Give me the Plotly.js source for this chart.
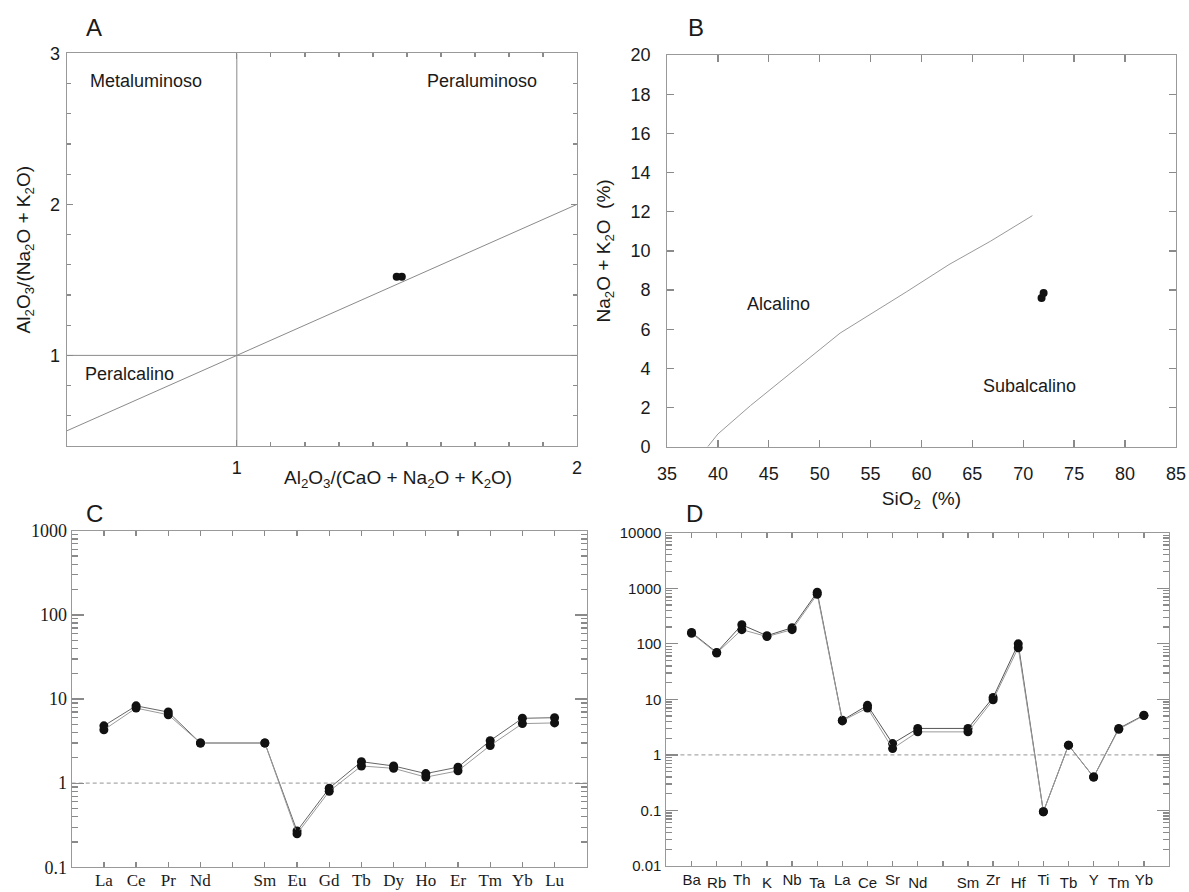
<!DOCTYPE html>
<html>
<head>
<meta charset="utf-8">
<script src="https://cdn.plot.ly/plotly-3.0.1.min.js"></script>
<style>
  html, body { margin: 0; padding: 0; background: #fff; }
  #chart { width: 1189px; height: 892px; }
</style>
</head>
<body>
<div id="chart"></div>
<script>
// ---------- Panel A (Shand index) ----------
const aDiagX = [0.5, 2.0];
const aDiagY = [0.5, 2.0];
const aHorizX = [0.5, 2.0];
const aHorizY = [1, 1];
const aVertX = [1, 1];
const aVertY = [0.4, 3];
const aSampleX = [1.470, 1.485];
const aSampleY = [1.52, 1.52];
const aFieldLabels = ['Metaluminoso', 'Peraluminoso', 'Peralcalino'];

// ---------- Panel B (TAS alkaline / subalkaline) ----------
const bBoundaryX = [39.0, 40.0, 43.2, 52.0, 58.5, 62.7, 66.8, 70.9];
const bBoundaryY = [0.0, 0.65, 2.1, 5.8, 7.9, 9.3, 10.5, 11.8];
const bSampleX = [71.8, 72.0];
const bSampleY = [7.6, 7.85];
const bFieldLabels = ['Alcalino', 'Subalcalino'];

// ---------- Panel C (REE normalised) ----------
const reeLabels = ['La','Ce','Pr','Nd','','Sm','Eu','Gd','Tb','Dy','Ho','Er','Tm','Yb','Lu'];
const reeSample1 = [4.8, 8.3, 7.0, 3.0, null, 3.0, 0.27, 0.87, 1.8, 1.6, 1.3, 1.55, 3.2, 5.9, 6.0];
const reeSample2 = [4.3, 7.8, 6.5, 3.0, null, 3.0, 0.25, 0.80, 1.6, 1.5, 1.18, 1.4, 2.8, 5.1, 5.2];
const reeTickVals = [0.1, 1, 10, 100, 1000];
const reeTickText = ['0.1', '1', '10', '100', '1000'];

// ---------- Panel D (spider diagram) ----------
const spiderLabels = ['Ba','Rb','Th','K','Nb','Ta','La','Ce','Sr','Nd','','Sm','Zr','Hf','Ti','Tb','Y','Tm','Yb'];
const spiderSample1 = [160, 70, 220, 140, 195, 850, 4.2, 7.8, 1.6, 3.0, null, 3.0, 10.8, 100, 0.095, 1.5, 0.4, 3.0, 5.2];
const spiderSample2 = [155, 68, 180, 135, 180, 780, 4.1, 7.0, 1.3, 2.6, null, 2.6, 9.8, 85, 0.095, 1.5, 0.4, 2.9, 5.1];
const spiderTickVals = [0.01, 0.1, 1, 10, 100, 1000, 10000];
const spiderTickText = ['0.01', '0.1', '1', '10', '100', '1000', '10000'];

// ---------- helpers ----------
const SANS = 'Liberation Sans, Arial, Helvetica, sans-serif';
const SERIF = 'Liberation Serif, Times New Roman, serif';
const AXC = '#999999';
const TKC = '#8a8a8a';
const TXT = '#1a1a1a';

function logMinors(lo, hi) {
  const v = [];
  for (let d = lo; d < hi; d++) for (let k = 2; k <= 9; k++) v.push(k * Math.pow(10, d));
  return v;
}
function seq(a, b, step) {
  const v = [];
  for (let t = a; t <= b + 1e-9; t += step) v.push(+t.toFixed(4));
  return v;
}
const reePos = reeLabels.map((_, i) => i + 1);
const reeLabPos = reePos.filter((_, i) => reeLabels[i] !== '');
const reeLabTxt = reeLabels.filter(s => s !== '');

const spiderPos = spiderLabels.map((_, i) => i + 1);
const upIdx = spiderLabels.map((s, i) => i).filter(i => i % 2 === 0 && spiderLabels[i] !== '');
const loIdx = spiderLabels.map((s, i) => i).filter(i => i % 2 === 1 && spiderLabels[i] !== '');
const spiderUpPos = upIdx.map(i => spiderPos[i]);
const spiderUpTxt = upIdx.map(i => spiderLabels[i]);
const spiderLoPos = loIdx.map(i => spiderPos[i]);
const spiderLoTxt = loIdx.map(i => spiderLabels[i]);

const baseAxis = {
  showline: true, mirror: 'ticks', linecolor: AXC, linewidth: 1,
  ticks: 'inside', tickcolor: TKC, tickwidth: 1.3,
  showgrid: false, zeroline: false, fixedrange: true
};
const minorStyle = { ticks: 'inside', tickcolor: TKC, tickwidth: 1.3, showgrid: false };

const lineGray = '#8a8a8a';
const marker = { color: '#111', size: 9 };

const traces = [
  // Panel A
  { x: aDiagX, y: aDiagY, xaxis: 'x', yaxis: 'y', mode: 'lines', line: { color: lineGray, width: 1 }, hoverinfo: 'skip' },
  { x: aHorizX, y: aHorizY, xaxis: 'x', yaxis: 'y', mode: 'lines', line: { color: lineGray, width: 1 }, hoverinfo: 'skip' },
  { x: aVertX, y: aVertY, xaxis: 'x', yaxis: 'y', mode: 'lines', line: { color: lineGray, width: 1 }, hoverinfo: 'skip' },
  { x: aSampleX, y: aSampleY, xaxis: 'x', yaxis: 'y', mode: 'markers', marker: { color: '#111', size: 8 } },
  // Panel B
  { x: bBoundaryX, y: bBoundaryY, xaxis: 'x2', yaxis: 'y2', mode: 'lines', line: { color: '#999', width: 1 }, hoverinfo: 'skip' },
  { x: bSampleX, y: bSampleY, xaxis: 'x2', yaxis: 'y2', mode: 'markers', marker: { color: '#111', size: 8 } },
  // Panel C
  { x: reePos, y: reeSample1, xaxis: 'x3', yaxis: 'y3', mode: 'lines+markers', connectgaps: true,
    line: { color: '#666', width: 1 }, marker: marker },
  { x: reePos, y: reeSample2, xaxis: 'x3', yaxis: 'y3', mode: 'lines+markers', connectgaps: true,
    line: { color: '#9a9a9a', width: 1 }, marker: marker },
  // Panel D
  { x: spiderPos, y: spiderSample1, xaxis: 'x4', yaxis: 'y4', mode: 'lines+markers', connectgaps: true,
    line: { color: '#555', width: 1 }, marker: marker },
  { x: spiderPos, y: spiderSample2, xaxis: 'x4', yaxis: 'y4', mode: 'lines+markers', connectgaps: true,
    line: { color: '#9a9a9a', width: 1 }, marker: marker },
  // invisible carrier so the second (staggered-label) x axis of panel D is drawn
  { x: spiderPos, y: spiderSample1, xaxis: 'x5', yaxis: 'y4', mode: 'markers', marker: { opacity: 0, size: 1 }, hoverinfo: 'skip' }
];

const layout = {
  width: 1189, height: 892,
  margin: { l: 0, r: 0, t: 0, b: 0 },
  paper_bgcolor: '#fff', plot_bgcolor: '#fff',
  showlegend: false,
  font: { family: SANS, color: TXT, size: 18 },
  // ---- A ----
  xaxis: Object.assign({}, baseAxis, {
    domain: [0.0561, 0.4853], anchor: 'y', range: [0.5, 2],
    tickmode: 'array', tickvals: [1, 2], ticktext: ['1', '2'], ticklen: 6,
    tickfont: { family: SANS, size: 18, color: TXT }, ticklabelstandoff: 5,
    minor: Object.assign({ tickmode: 'array', tickvals: seq(1.1, 1.9, 0.1), ticklen: 4 }, minorStyle)
  }),
  yaxis: Object.assign({}, baseAxis, {
    domain: [0.5, 0.9402], anchor: 'x', range: [0.4, 3],
    tickmode: 'array', tickvals: [1, 2, 3], ticktext: ['1', '2', '3'], ticklen: 6,
    tickfont: { family: SANS, size: 18, color: TXT }, ticklabelstandoff: 2,
    minor: Object.assign({ tickmode: 'array', tickvals: [0.6, 0.8, 1.2, 1.4, 1.6, 1.8, 2.2, 2.4, 2.6, 2.8], ticklen: 4 }, minorStyle),
    title: { text: 'Al<sub>2</sub>O<sub>3</sub>/(Na<sub>2</sub>O + K<sub>2</sub>O)', font: { family: SANS, size: 19, color: TXT }, standoff: 14 }
  }),
  // ---- B ----
  xaxis2: Object.assign({}, baseAxis, {
    domain: [0.561, 0.989], anchor: 'y2', range: [35, 85],
    tickmode: 'linear', tick0: 35, dtick: 5, ticklen: 7,
    tickfont: { family: SANS, size: 18, color: TXT }, ticklabelstandoff: 11,
    title: { text: 'SiO<sub>2</sub>  (%)', font: { family: SANS, size: 19, color: TXT }, standoff: 8 }
  }),
  yaxis2: Object.assign({}, baseAxis, {
    domain: [0.4992, 0.9383], anchor: 'x2', range: [0, 20],
    tickmode: 'linear', tick0: 0, dtick: 2, ticklen: 7,
    tickfont: { family: SANS, size: 18, color: TXT }, ticklabelstandoff: 12,
    title: { text: 'Na<sub>2</sub>O + K<sub>2</sub>O  (%)', font: { family: SANS, size: 19, color: TXT }, standoff: 14 }
  }),
  // ---- C ----
  xaxis3: Object.assign({}, baseAxis, {
    domain: [0.0603, 0.4935], anchor: 'y3', range: [0, 16],
    tickmode: 'array', tickvals: reeLabPos, ticktext: reeLabTxt, ticklen: 5,
    tickfont: { family: SERIF, size: 17, color: TXT }, ticklabelstandoff: -3,
    minor: Object.assign({ tickmode: 'array', tickvals: reePos, ticklen: 5 }, minorStyle)
  }),
  yaxis3: Object.assign({}, baseAxis, {
    domain: [0.0277, 0.405], anchor: 'x3', type: 'log', range: [-1, 3],
    tickmode: 'array', tickvals: reeTickVals, ticktext: reeTickText, ticklen: 12,
    tickfont: { family: SERIF, size: 18, color: TXT }, ticklabelstandoff: 0,
    minor: Object.assign({ tickmode: 'array', tickvals: logMinors(-1, 3), ticklen: 6 }, minorStyle)
  }),
  // ---- D ----
  xaxis4: Object.assign({}, baseAxis, {
    domain: [0.5605, 0.9832], anchor: 'y4', range: [0, 20],
    tickmode: 'array', tickvals: spiderUpPos, ticktext: spiderUpTxt, ticklen: 5,
    tickfont: { family: SANS, size: 15, color: TXT }, ticklabelstandoff: 0,
    minor: Object.assign({ tickmode: 'array', tickvals: spiderPos, ticklen: 5 }, minorStyle)
  }),
  xaxis5: {
    domain: [0.5605, 0.9832], anchor: 'y4', overlaying: 'x4', side: 'bottom', range: [0, 20],
    showline: false, ticks: '', showgrid: false, zeroline: false, fixedrange: true,
    tickmode: 'array', tickvals: spiderLoPos, ticktext: spiderLoTxt,
    tickfont: { family: SANS, size: 15, color: TXT }, ticklabelstandoff: 6
  },
  yaxis4: Object.assign({}, baseAxis, {
    domain: [0.0291, 0.4028], anchor: 'x4', type: 'log', range: [-2, 4],
    tickmode: 'array', tickvals: spiderTickVals, ticktext: spiderTickText, ticklen: 12,
    tickfont: { family: SANS, size: 15, color: TXT }, ticklabelstandoff: 1,
    minor: Object.assign({ tickmode: 'array', tickvals: logMinors(-2, 4), ticklen: 6 }, minorStyle)
  }),
  shapes: [
    { type: 'line', xref: 'x3 domain', x0: 0, x1: 1, yref: 'y3', y0: 1, y1: 1, line: { color: '#aaa', width: 1.2, dash: '4px,3px' }, layer: 'below' },
    { type: 'line', xref: 'x4 domain', x0: 0, x1: 1, yref: 'y4', y0: 1, y1: 1, line: { color: '#aaa', width: 1.2, dash: '4px,3px' }, layer: 'below' }
  ],
  annotations: [
    // panel letters
    { text: 'A', xref: 'paper', yref: 'paper', x: 94 / 1189, y: 1 - 28 / 892, xanchor: 'center', yanchor: 'middle', showarrow: false, font: { family: SANS, size: 24, color: TXT } },
    { text: 'B', xref: 'paper', yref: 'paper', x: 695.6 / 1189, y: 1 - 28 / 892, xanchor: 'center', yanchor: 'middle', showarrow: false, font: { family: SANS, size: 24, color: TXT } },
    { text: 'C', xref: 'paper', yref: 'paper', x: 94 / 1189, y: 1 - 513 / 892, xanchor: 'center', yanchor: 'middle', showarrow: false, font: { family: SANS, size: 24, color: TXT } },
    { text: 'D', xref: 'paper', yref: 'paper', x: 694 / 1189, y: 1 - 513 / 892, xanchor: 'center', yanchor: 'middle', showarrow: false, font: { family: SANS, size: 24, color: TXT } },
    // panel A x-axis title (placed right of centre as in the original)
    { text: 'Al<sub>2</sub>O<sub>3</sub>/(CaO + Na<sub>2</sub>O + K<sub>2</sub>O)', xref: 'paper', yref: 'paper',
      x: 398 / 1189, y: 1 - 479 / 892, xanchor: 'center', yanchor: 'middle', showarrow: false, font: { family: SANS, size: 19, color: TXT } },
    // field labels A
    { text: aFieldLabels[0], xref: 'x', yref: 'y', x: 0.733, y: 2.82, showarrow: false, font: { family: SANS, size: 18, color: TXT } },
    { text: aFieldLabels[1], xref: 'x', yref: 'y', x: 1.72, y: 2.82, showarrow: false, font: { family: SANS, size: 18, color: TXT } },
    { text: aFieldLabels[2], xref: 'x', yref: 'y', x: 0.684, y: 0.88, showarrow: false, font: { family: SANS, size: 18, color: TXT } },
    // field labels B
    { text: bFieldLabels[0], xref: 'x2', yref: 'y2', x: 46.0, y: 7.3, showarrow: false, font: { family: SANS, size: 18, color: TXT } },
    { text: bFieldLabels[1], xref: 'x2', yref: 'y2', x: 70.6, y: 3.1, showarrow: false, font: { family: SANS, size: 18, color: TXT } }
  ]
};

Plotly.newPlot('chart', traces, layout, { displayModeBar: false, staticPlot: true });
</script>
</body>
</html>
